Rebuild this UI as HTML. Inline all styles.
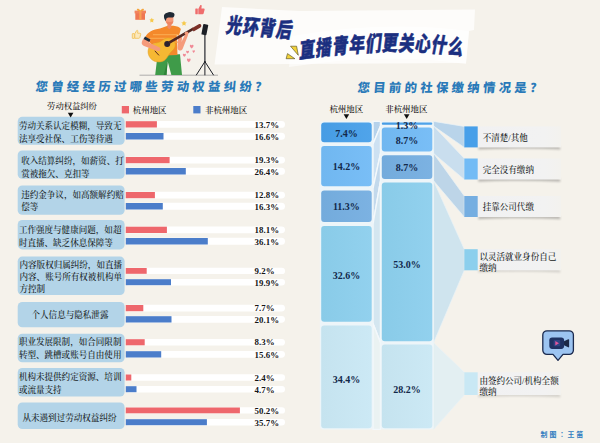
<!DOCTYPE html>
<html lang="zh"><head><meta charset="utf-8"><title>光环背后 直播青年们更关心什么</title>
<style>
html,body{margin:0;padding:0;background:#f5f2eb;}
body{width:600px;height:443px;overflow:hidden;}
svg{display:block}
.lab{font:500 8.55px "Liberation Serif","Noto Serif CJK SC",serif;fill:#171c22;}
.sm{font:500 8.45px "Liberation Serif","Noto Serif CJK SC",serif;fill:#151515;}
.pct{font:bold 8.9px "Liberation Serif","Noto Serif CJK SC",serif;fill:#151515;}
.pct2{font:bold 10px "Liberation Serif","Noto Serif CJK SC",serif;fill:#12284a;}
.ttl{font:900 12.3px "Liberation Sans","Noto Sans CJK SC",sans-serif;fill:#2a7ab9;letter-spacing:3.4px;}
.big{font:900 21px "Liberation Sans","Noto Sans CJK SC",sans-serif;fill:#1b2f80;stroke:#1b2f80;stroke-width:.55px;letter-spacing:1.6px;}
.credit{font:bold 6.9px "Liberation Sans","Noto Sans CJK TC",sans-serif;fill:#2f7cc0;letter-spacing:2.05px;}
</style></head><body>
<svg width="600" height="443" viewBox="0 0 600 443">
<defs>
<linearGradient id="lg" x1="0" x2="1" y1="0" y2="0"><stop offset="0" stop-color="#f1f1f2"/><stop offset=".8" stop-color="#f2f2f2"/><stop offset="1" stop-color="#f3f2ee"/></linearGradient>
<filter id="bl" x="-5%" y="-100%" width="110%" height="300%"><feGaussianBlur stdDeviation="0.9"/></filter>
</defs>
<rect width="600" height="443" fill="#f5f2eb"/>
<!-- ===== header illustration ===== -->
<g id="illus">
  <!-- ground -->
  <path d="M139.5 75.2H218" stroke="#9a9a9a" stroke-width="0.8" fill="none"/>
  <!-- gift box -->
  <rect x="135.300" y="13" width="9.700" height="6.800" fill="#ef7752"/>
  <rect x="134.600" y="10.600" width="11.400" height="2.800" fill="#f2835c"/>
  <rect x="139.300" y="10.600" width="2.200" height="9.200" fill="#f7a055"/>
  <path d="M140.400 10.700c-1.600-2.700-4.200-2.200-3.400-.5.500 1 2.200.8 3.400.5zm0 0c1.600-2.700 4.200-2.200 3.400-.5-.5 1-2.200.8-3.400.5z" fill="#f5a53c"/>
  <!-- thumbs up (red, top right) -->
  <g fill="#ef6d6d">
    <rect x="195.300" y="8.6" width="2.500" height="5.600" rx=".4"/>
    <path d="M198.300 14.200V9.100l1.800-3.600c.4-.9 1.700-.5 1.600.500l-.3 2.400h2.300c.7 0 1.100.600 .9 1.300l-1 3.700c-.1.500-.5.800-1 .8z"/>
  </g>
  <!-- thumbs up (yellow outline, left) -->
  <g fill="#fbe9bd" stroke="#f3c45e" stroke-width=".9" stroke-linejoin="round">
    <rect x="132.300" y="33.600" width="2.100" height="4.800" rx=".3"/>
    <path d="M134.800 38.300V33.800l1.700-3.100c.4-.7 1.500-.4 1.400.5l-.3 2h2.300c.6 0 1 .5.800 1.100l-.9 3.300c-.1.400-.5.700-.9.700z"/>
  </g>
  <!-- stars -->
  <path id="star" d="M0-2.600l.76 1.560 1.720.25-1.250 1.210.3 1.710L0 1.330l-1.530.8.300-1.710-1.250-1.210 1.720-.25z" fill="#f6c94b" transform="translate(151.800 20.300)"/>
  <path d="M0-2.600l.76 1.560 1.720.25-1.250 1.210.3 1.710L0 1.330l-1.530.8.300-1.710-1.250-1.210 1.720-.25z" fill="#f6c94b" transform="translate(184 23.300) scale(1.100)"/>
  <!-- hearts -->
  <g fill="#f08a96">
    <path id="hrt" d="M0 1.500C-2.300-.2-1.700-1.700-.8-1.700c.5 0 .7.300 .8.600.1-.3.300-.6.800-.6.900 0 1.500 1.500-.8 3.200z" transform="translate(191.700 46.800) scale(1.150)"/>
    <path d="M0 1.500C-2.300-.2-1.700-1.700-.8-1.700c.5 0 .7.300 .8.600.1-.3.300-.6.800-.6.900 0 1.500 1.500-.8 3.200z" transform="translate(187.600 52.200) scale(.9)"/>
    <path d="M0 1.500C-2.300-.2-1.700-1.700-.8-1.700c.5 0 .7.300 .8.600.1-.3.300-.6.800-.6.900 0 1.500 1.500-.8 3.200z" transform="translate(193.700 51.700) scale(.8)"/>
    <path d="M0 1.500C-2.300-.2-1.700-1.700-.8-1.700c.5 0 .7.300 .8.600.1-.3.300-.6.800-.6.900 0 1.500 1.500-.8 3.200z" transform="translate(184.400 55.400) scale(.95)"/>
    <path d="M0 1.500C-2.300-.2-1.700-1.700-.8-1.700c.5 0 .7.300 .8.600.1-.3.300-.6.800-.6.900 0 1.500 1.500-.8 3.200z" transform="translate(188.800 60.400) scale(1.150)"/>
  </g>
  <!-- tripod -->
  <g stroke="#1c1f26" stroke-linecap="round" fill="none">
    <path d="M204.900 34.500V62" stroke-width="1.150"/>
    <path d="M204.900 61.600L196.400 74.900M204.900 61.600L213.400 74.900M204.900 61.600V74.900" stroke-width="1"/>
  </g>
  <rect x="202.300" y="24.200" width="5.100" height="10.800" rx=".8" fill="#1c1f26" transform="rotate(11 204.800 29.600)"/>
  <!-- pants -->
  <path d="M157.600 54.600L180 54.200l2 20.800h-10.600l-3.700-13.600-1.200 13.600H155.200z" fill="#3f9b49"/>
  <path d="M167.500 61.200l-1 13.800h-2.800z" fill="#2f8339"/>
  <!-- shirt -->
  <path d="M145.400 36.800c2-4.600 7.600-7.400 14.600-8.300l8.400-2.900 5.200.200c3.600.400 6 1.300 7.300 3.200l-1.900 6.400-2.300-.5.800 20.200-19.800.6-1.700-12.800-4.600 1.600z" fill="#f4892b"/>
  <path d="M153 34.600H178.500M150 38.400H178.500M160 42.200H178.500" stroke="#f9a64b" stroke-width="1.200" fill="none"/>
  <!-- far arm (viewer right) -->
  <path d="M178.200 35.600l3.600.4c.5 2.200.2 4.400-.5 6.300l4.300-8.600 2.400 1.500-5.300 13.600c-.6 1.500-2 2.100-3.300 1.600-1.500-.6-2.100-1.900-1.900-3.500z" fill="#f59b7b"/>
  <!-- guitar -->
  <path d="M149 47.600c1.700-3.600 6.200-4.300 9.800-5.300 2.700-.8 4.200-3.200 7.300-4 4.400-1.200 8.800 1.700 9.200 6 .4 3.900-2.500 6-4.800 8.300-2.300 2.400-3 5.800-6.100 7.800-4.100 2.600-10.300 2-13.800-2-2.600-3-3.300-7.200-1.600-10.800z" fill="#f6b833" stroke="#de9a1c" stroke-width=".5"/>
  <circle cx="167.200" cy="43.900" r="3" fill="#2a2230"/>
  <path d="M154.800 50.800l4.200 4.600" stroke="#5a2a22" stroke-width="1" />
  <path d="M169.200 42.600L193.500 28.600" stroke="#4f2620" stroke-width="2.700" fill="none"/>
  <path d="M191.800 28.200l6.900-4c1.200-.7 2.600.1 2.600 1.300.1 1-.4 1.700-1.200 2.200l-6.500 3.700z" fill="#7d3128"/>
  <!-- hand on neck -->
  <circle cx="186.600" cy="33.300" r="1.900" fill="#f59b7b"/>
  <!-- near arm (viewer left) -->
  <path d="M145.300 37c-2.200 1.800-3.800 4.400-3.600 6.200.2 1.500 1.400 2.400 3 3l12.600 4.700c1.400.5 2.600 0 3-1.100.4-1.200-.3-2.200-1.600-2.700l-9.500-4.400 1.600-3.100z" fill="#f59b7b"/>
  <path d="M145 36.600l5.500 3-1.100 2.300-5.800-2.800z" fill="#1f2a35"/>
  <!-- neck & head -->
  <path d="M167.400 24.300h3.800v3.300l-1.900 1.700-1.900-1.700z" fill="#f08b68"/>
  <g transform="translate(0 -1.400)">
  <path d="M165.300 18.800c0-2.500 1.700-4 4-4s4.100 1.600 4.100 4v3.100c0 2.400-1.400 4.600-3.500 4.600-1.700 0-3.300-1.200-4.100-3.200-.4-1.100-.5-2.900-.5-4.500z" fill="#f59b7b"/>
  <path d="M165.800 22.300c1.300.6 3.200 1 4.600 1 1.100 0 2.100-.3 3-.9-.2 2.200-1.600 4.100-3.500 4.100-1.900 0-3.500-1.700-4.100-4.200z" fill="#e8734e" opacity=".55"/>
  <path d="M164 18.700c-.5-2.500 1-4.300 3.200-4.600 1.400-.9 3.800-1 5.300-.1 1.700.3 2.600 1.900 1.700 3.600-.4.900-1.200 1.200-2.200 1.200h-3.600c-1.200 0-1.900.7-2.200 1.900l-.4 1.700c-1-.9-1.500-2.100-1.800-3.700z" fill="#1f2a35"/>
  </g>
</g>
<!-- ===== header title ===== -->
<g id="title">
  <polygon points="222,7 300,11 475,9.500 474,30 469,31 466,63 214.500,64.500" fill="#ffffff" opacity=".74"/>
    <path d="M292 36Q385 20 469 31L466 64Q385 52 289 67z" fill="#ffffff" opacity=".6"/>
  <path d="M290.500 46.200L296.600 46.200L298.300 55.300z" fill="#f2d23a" stroke="#4a4520" stroke-width=".6" stroke-linejoin="round"/>
  <path d="M287.500 53.600L294.900 58.700L286.100 58.700z" fill="#f2d23a" stroke="#4a4520" stroke-width=".6" stroke-linejoin="round"/>
  <text class="big" transform="translate(225.300 32.200) rotate(5) skewX(-7) scale(.74 1)">光环背后</text>
  <path id="arc" d="M0 .5Q128-13.500 222-2" fill="none"/>
  <text class="big" style="letter-spacing:1.1px" transform="translate(299 57.900) skewX(-8) scale(.74 1)"><textPath href="#arc">直播青年们更关心什么</textPath></text>
</g>
<!-- ===== video bubble icon ===== -->
<g id="vid">
  <path d="M547 330.800h22.200a4.200 4.200 0 0 1 4.200 4.200v15.200a4.200 4.200 0 0 1-4.200 4.200h-6.200l-5 6-5-6H547a4.200 4.200 0 0 1-4.200-4.200V335a4.200 4.200 0 0 1 4.200-4.200z" fill="#9cc4f1" stroke="#1b2a4e" stroke-width="1.300" stroke-linejoin="round"/>
  <path d="M564 341.300l4.200-2c.5-.2.900 0 .9.500v7c0 .5-.4.700-.9.500l-4.200-2z" fill="#1c2947"/>
  <rect x="549.300" y="337.400" width="14.800" height="11.500" rx="2.800" fill="#1f3263"/>
  <rect x="553.600" y="340" width="6.600" height="6.300" rx="1" fill="#2f4384"/>
  <path d="M555.300 340.900l3.700 2.300-3.700 2.300z" fill="#e2569c"/>
</g>

<rect x="17.7" y="116.8" width="106.9" height="28.0" rx="4.6" fill="#b3d4e8"/>
<rect x="125.8" y="120.9" width="159.2" height="6.9" rx="3.4" fill="#ffffff"/>
<rect x="125.8" y="121.2" width="31.1" height="6.3" fill="#ee676c"/>
<text x="254.6" y="127.5" class="pct">13.7%</text>
<rect x="125.8" y="132.7" width="159.2" height="7.1" rx="3.5" fill="#ffffff"/>
<rect x="125.8" y="133.0" width="37.7" height="6.5" fill="#4b7dca"/>
<text x="254.6" y="139.9" class="pct">16.6%</text>
<text x="18.9" y="129.3" class="lab">劳动关系认定模糊，导致无</text>
<text x="18.9" y="141.6" class="lab">法享受社保、工伤等待遇</text>
<rect x="17.7" y="150.5" width="106.9" height="28.3" rx="4.6" fill="#b3d4e8"/>
<rect x="125.8" y="156.7" width="159.2" height="6.8" rx="3.4" fill="#ffffff"/>
<rect x="125.8" y="157.0" width="43.8" height="6.2" fill="#ee676c"/>
<text x="254.6" y="163.3" class="pct">19.3%</text>
<rect x="125.8" y="167.7" width="159.2" height="7.1" rx="3.5" fill="#ffffff"/>
<rect x="125.8" y="168.0" width="60.0" height="6.5" fill="#4b7dca"/>
<text x="254.6" y="174.9" class="pct">26.4%</text>
<text x="21.2" y="164.1" class="lab">收入结算纠纷，如薪资、打</text>
<text x="21.2" y="176.6" class="lab">赏被拖欠、克扣等</text>
<rect x="17.7" y="185.5" width="106.9" height="29.3" rx="4.6" fill="#b3d4e8"/>
<rect x="125.8" y="191.7" width="159.2" height="6.8" rx="3.4" fill="#ffffff"/>
<rect x="125.8" y="192.0" width="29.1" height="6.2" fill="#ee676c"/>
<text x="254.6" y="198.3" class="pct">12.8%</text>
<rect x="125.8" y="202.7" width="159.2" height="7.1" rx="3.5" fill="#ffffff"/>
<rect x="125.8" y="203.0" width="37.0" height="6.5" fill="#4b7dca"/>
<text x="254.6" y="209.9" class="pct">16.3%</text>
<text x="21.2" y="198.1" class="lab">违约金争议，如高额解约赔</text>
<text x="21.2" y="209.5" class="lab">偿等</text>
<rect x="17.7" y="220.0" width="106.9" height="29.4" rx="4.6" fill="#b3d4e8"/>
<rect x="125.8" y="226.4" width="159.2" height="6.9" rx="3.5" fill="#ffffff"/>
<rect x="125.8" y="226.7" width="41.1" height="6.3" fill="#ee676c"/>
<text x="254.6" y="233.0" class="pct">18.1%</text>
<rect x="125.8" y="237.7" width="159.2" height="7.1" rx="3.5" fill="#ffffff"/>
<rect x="125.8" y="238.0" width="82.0" height="6.5" fill="#4b7dca"/>
<text x="254.6" y="244.9" class="pct">36.1%</text>
<text x="18.9" y="233.1" class="lab">工作强度与健康问题，如超</text>
<text x="18.9" y="245.6" class="lab">时直播、缺乏休息保障等</text>
<rect x="17.7" y="256.6" width="106.9" height="38.4" rx="4.6" fill="#b3d4e8"/>
<rect x="125.8" y="267.7" width="159.2" height="6.4" rx="3.2" fill="#ffffff"/>
<rect x="125.8" y="268.0" width="20.9" height="5.8" fill="#ee676c"/>
<text x="254.6" y="274.1" class="pct">9.2%</text>
<rect x="125.8" y="278.9" width="159.2" height="6.6" rx="3.3" fill="#ffffff"/>
<rect x="125.8" y="279.2" width="45.2" height="6.0" fill="#4b7dca"/>
<text x="254.6" y="285.9" class="pct">19.9%</text>
<text x="19.5" y="267.6" class="lab">内容版权归属纠纷，如直播</text>
<text x="19.5" y="279.6" class="lab">内容、账号所有权被机构单</text>
<text x="19.5" y="291.8" class="lab">方控制</text>
<rect x="17.7" y="302.0" width="106.9" height="25.3" rx="4.6" fill="#b3d4e8"/>
<rect x="125.8" y="304.7" width="159.2" height="6.8" rx="3.4" fill="#ffffff"/>
<rect x="125.8" y="305.0" width="17.5" height="6.2" fill="#ee676c"/>
<text x="254.6" y="311.3" class="pct">7.7%</text>
<rect x="125.8" y="315.9" width="159.2" height="6.9" rx="3.5" fill="#ffffff"/>
<rect x="125.8" y="316.2" width="45.7" height="6.3" fill="#4b7dca"/>
<text x="254.6" y="323.1" class="pct">20.1%</text>
<text x="70" y="317.6" text-anchor="middle" class="lab">个人信息与隐私泄露</text>
<rect x="17.7" y="333.7" width="106.9" height="28.6" rx="4.6" fill="#b3d4e8"/>
<rect x="125.8" y="338.9" width="159.2" height="6.7" rx="3.4" fill="#ffffff"/>
<rect x="125.8" y="339.2" width="18.9" height="6.1" fill="#ee676c"/>
<text x="254.6" y="345.4" class="pct">8.3%</text>
<rect x="125.8" y="350.9" width="159.2" height="6.9" rx="3.5" fill="#ffffff"/>
<rect x="125.8" y="351.2" width="35.4" height="6.3" fill="#4b7dca"/>
<text x="254.6" y="358.1" class="pct">15.6%</text>
<text x="18.9" y="345.1" class="lab">职业发展限制，如合同限制</text>
<text x="18.9" y="358.1" class="lab">转型、跳槽或账号自由使用</text>
<rect x="17.7" y="368.0" width="106.9" height="28.5" rx="4.6" fill="#b3d4e8"/>
<rect x="125.8" y="374.2" width="159.2" height="6.6" rx="3.3" fill="#ffffff"/>
<rect x="125.8" y="374.5" width="5.5" height="6.0" fill="#ee676c"/>
<text x="254.6" y="380.7" class="pct">2.4%</text>
<rect x="125.8" y="385.9" width="159.2" height="6.6" rx="3.3" fill="#ffffff"/>
<rect x="125.8" y="386.2" width="10.7" height="6.0" fill="#4b7dca"/>
<text x="254.6" y="392.9" class="pct">4.7%</text>
<text x="18.9" y="379.9" class="lab">机构未提供约定资源、培训</text>
<text x="18.9" y="393.1" class="lab">或流量支持</text>
<rect x="17.7" y="402.5" width="106.9" height="26.5" rx="4.6" fill="#b3d4e8"/>
<rect x="125.8" y="407.2" width="159.2" height="6.4" rx="3.2" fill="#ffffff"/>
<rect x="125.8" y="407.5" width="114.1" height="5.8" fill="#ee676c"/>
<text x="254.6" y="413.6" class="pct">50.2%</text>
<rect x="125.8" y="418.9" width="159.2" height="6.6" rx="3.3" fill="#ffffff"/>
<rect x="125.8" y="419.2" width="81.1" height="6.0" fill="#4b7dca"/>
<text x="254.6" y="425.9" class="pct">35.7%</text>
<text x="69.5" y="420.6" text-anchor="middle" class="lab">从未遇到过劳动权益纠纷</text>
<text transform="translate(35.2 91.2) skewX(-5)" class="ttl">您曾经经历过哪些劳动权益纠纷？</text>
<text x="72" y="109.3" text-anchor="middle" class="sm" style="font-size:8.3px">劳动权益纠纷</text>
<path d="M67.8 112.8h5.6l-2.8 4.8z" fill="#111"/>
<rect x="121.8" y="106" width="7.2" height="7.4" fill="#ee676c"/>
<text x="132.8" y="112.6" class="sm">杭州地区</text>
<rect x="193.3" y="106" width="7.2" height="7.4" fill="#4b7dca"/>
<text x="205" y="112.6" class="sm">非杭州地区</text>
<text transform="translate(357.2 92.3) skewX(-5)" class="ttl">您目前的社保缴纳情况是？</text>
<text x="346.3" y="112" text-anchor="middle" class="sm">杭州地区</text>
<path d="M343.6 114.3h5.6l-2.8 4.8z" fill="#111"/>
<text x="406.3" y="112" text-anchor="middle" class="sm">非杭州地区</text>
<path d="M403.9 114.3h5.6l-2.8 4.8z" fill="#111"/>
<polygon points="373.0,121.3 380.5,121.4 380.5,126.1 373.0,144.1" fill="#b6d2eb" stroke="#f3f8fb" stroke-width="1.4" stroke-linejoin="round"/>
<polygon points="373.0,144.1 380.5,126.1 380.5,153.4 373.0,188.4" fill="#cde1f2" stroke="#f3f8fb" stroke-width="1.4" stroke-linejoin="round"/>
<polygon points="373.0,188.4 380.5,153.4 380.5,180.8 373.0,224.0" fill="#c3d9ec" stroke="#f3f8fb" stroke-width="1.4" stroke-linejoin="round"/>
<polygon points="373.0,224.0 380.5,180.8 380.5,342.8 373.0,323.6" fill="#d4e6f0" stroke="#f3f8fb" stroke-width="1.4" stroke-linejoin="round"/>
<polygon points="373.0,323.6 380.5,342.8 380.5,429.4 373.0,429.4" fill="#eaf2f2" stroke="#f3f8fb" stroke-width="1.4" stroke-linejoin="round"/>
<polygon points="433.6,121.4 464.3,126.4 464.3,147.4 433.6,126.1" fill="#b9d4ea" stroke="#e9f2f7" stroke-width=".7"/>
<polygon points="433.6,126.1 464.3,158.5 464.3,179.5 433.6,153.4" fill="#c9deee" stroke="#e9f2f7" stroke-width=".7"/>
<polygon points="433.6,153.4 464.3,196.0 464.3,217.0 433.6,180.8" fill="#bdd5e8" stroke="#e9f2f7" stroke-width=".7"/>
<polygon points="433.6,180.8 464.3,249.2 464.3,270.3 433.6,342.8" fill="#cfe4ee" stroke="#e9f2f7" stroke-width=".7"/>
<polygon points="433.6,342.8 464.3,372.3 464.3,395.0 433.6,429.4" fill="#e3eff2" stroke="#e9f2f7" stroke-width=".7"/>
<defs><linearGradient id="sg0" x1="0" x2="1" y1="0" y2="0"><stop offset="0" stop-color="#469ce4"/><stop offset="1" stop-color="#50a4ea"/></linearGradient><linearGradient id="sg1" x1="0" x2="1" y1="0" y2="0"><stop offset="0" stop-color="#70b7f0"/><stop offset="1" stop-color="#79bef6"/></linearGradient><linearGradient id="sg2" x1="0" x2="1" y1="0" y2="0"><stop offset="0" stop-color="#73abdc"/><stop offset="1" stop-color="#7cb2e2"/></linearGradient><linearGradient id="sg3" x1="0" x2="1" y1="0" y2="0"><stop offset="0" stop-color="#89cbe8"/><stop offset="1" stop-color="#92d1ee"/></linearGradient><linearGradient id="sg4" x1="0" x2="1" y1="0" y2="0"><stop offset="0" stop-color="#c5e3ef"/><stop offset="1" stop-color="#cce9f5"/></linearGradient></defs>
<rect x="319.9" y="121.2" width="53.1" height="308.3" rx="3" fill="#edf5f9"/>
<rect x="321.2" y="122.5" width="50.5" height="19.7" rx="3.0" fill="url(#sg0)"/>
<rect x="321.2" y="146.1" width="50.5" height="40.1" rx="3.0" fill="url(#sg1)"/>
<rect x="321.2" y="190.6" width="50.5" height="31.4" rx="3.0" fill="url(#sg2)"/>
<rect x="321.2" y="226.0" width="50.5" height="95.7" rx="3.0" fill="url(#sg3)"/>
<rect x="321.2" y="325.6" width="50.5" height="102.6" rx="3.0" fill="url(#sg4)"/>
<text x="346.4" y="137.0" text-anchor="middle" class="pct2">7.4%</text>
<text x="346.4" y="170.1" text-anchor="middle" class="pct2">14.2%</text>
<text x="346.4" y="209.8" text-anchor="middle" class="pct2">11.3%</text>
<text x="346.4" y="278.6" text-anchor="middle" class="pct2">32.6%</text>
<text x="346.4" y="382.9" text-anchor="middle" class="pct2">34.4%</text>
<rect x="380.5" y="121.3" width="53.1" height="308.2" rx="3" fill="#edf5f9"/>
<rect x="381.8" y="122.6" width="50.5" height="2.1" rx="1.1" fill="url(#sg0)"/>
<rect x="381.8" y="127.4" width="50.5" height="24.0" rx="3.0" fill="url(#sg1)"/>
<rect x="381.8" y="155.3" width="50.5" height="23.8" rx="3.0" fill="url(#sg2)"/>
<rect x="381.8" y="182.5" width="50.5" height="158.7" rx="3.0" fill="url(#sg3)"/>
<rect x="381.8" y="344.4" width="50.5" height="83.8" rx="3.0" fill="url(#sg4)"/>
<text x="407.1" y="128.5" text-anchor="middle" class="pct2">1.3%</text>
<text x="407.1" y="143.8" text-anchor="middle" class="pct2">8.7%</text>
<text x="407.1" y="171.2" text-anchor="middle" class="pct2">8.7%</text>
<text x="407.1" y="268.1" text-anchor="middle" class="pct2">53.0%</text>
<text x="407.1" y="392.8" text-anchor="middle" class="pct2">28.2%</text>
<path d="M479 145.9H559.5L560.6 149.6Q520 147.6 478 149.6z" fill="#000" opacity="0.24" filter="url(#bl)"/>
<rect x="477.6" y="126.4" width="83.4" height="21.0" fill="url(#lg)"/>
<rect x="464.3" y="126.4" width="13.4" height="21.0" fill="#479fe9"/>
<text x="482.7" y="140.5" class="lab">不清楚/其他</text>
<path d="M479 178.0H559.5L560.6 181.7Q520 179.7 478 181.7z" fill="#000" opacity="0.24" filter="url(#bl)"/>
<rect x="477.6" y="158.5" width="83.4" height="21.0" fill="url(#lg)"/>
<rect x="464.3" y="158.5" width="13.4" height="21.0" fill="#72bbf5"/>
<text x="482.7" y="172.6" class="lab">完全没有缴纳</text>
<path d="M479 215.5H559.5L560.6 219.2Q520 217.2 478 219.2z" fill="#000" opacity="0.24" filter="url(#bl)"/>
<rect x="477.6" y="196.0" width="83.4" height="21.0" fill="url(#lg)"/>
<rect x="464.3" y="196.0" width="13.4" height="21.0" fill="#75aee1"/>
<text x="482.7" y="210.1" class="lab">挂靠公司代缴</text>
<path d="M479 268.8H559.5L560.6 272.5Q520 270.5 478 272.5z" fill="#000" opacity="0.13" filter="url(#bl)"/>
<rect x="477.6" y="249.2" width="83.4" height="21.1" fill="url(#lg)"/>
<rect x="464.3" y="249.2" width="13.4" height="21.1" fill="#8ccfed"/>
<text x="479.4" y="260.4" class="lab">以灵活就业身份自己</text>
<text x="479.4" y="270.7" class="lab">缴纳</text>
<path d="M479 393.5H559.5L560.6 397.2Q520 395.2 478 397.2z" fill="#000" opacity="0.13" filter="url(#bl)"/>
<rect x="477.6" y="372.3" width="83.4" height="22.7" fill="url(#lg)"/>
<rect x="464.3" y="372.3" width="13.4" height="22.7" fill="#c9e8f4"/>
<text x="479.4" y="384.3" class="lab">由签约公司/机构全额</text>
<text x="479.4" y="394.6" class="lab">缴纳</text>
<text x="540.6" y="437.3" class="credit" lang="zh-TW">制图：王笛</text>
</svg>
</body></html>
